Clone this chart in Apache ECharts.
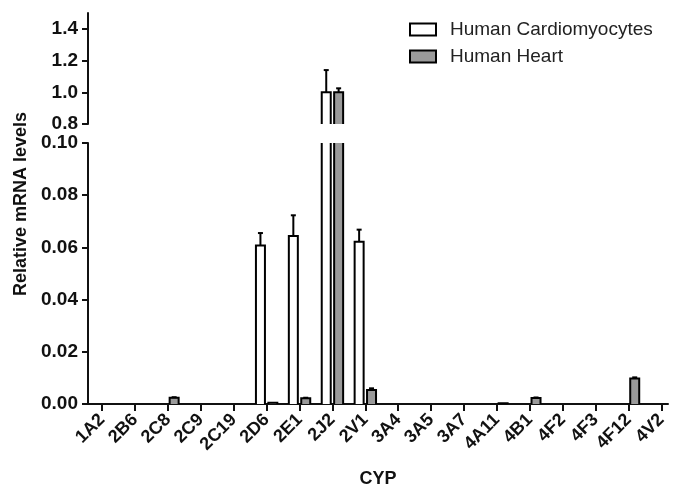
<!DOCTYPE html>
<html>
<head>
<meta charset="utf-8">
<script src="https://cdn.jsdelivr.net/npm/echarts@6/dist/echarts.min.js"></script>
<style>html,body{margin:0;padding:0;background:#fff;}#c{width:674px;height:486px;}</style>
</head>
<body>
<div id="c"></div>
<script>
var categories = ['1A2','2B6','2C8','2C9','2C19','2D6','2E1','2J2','2V1','3A4','3A5','3A7','4A11','4B1','4F2','4F3','4F12','4V2'];
var cardioMean = [0,0,0,0,0,0.0607,0.0644,1.0,0.0622,0,0,0,0,0,0,0,0,0];
var cardioErrTop = [null,null,null,null,null,0.0655,0.0723,1.14,0.0668,null,null,null,null,null,null,null,null,null];
var heartMean = [0,0,0.0024,0,0,0.0005,0.0022,1.0,0.0054,0,0,0,0.0003,0.0023,0,0,0.0098,0];
var heartErrTop = [null,null,0.0026,null,null,null,0.0024,1.025,0.006,null,null,null,null,0.0025,null,null,0.0102,null];
var upperTicks = [0.8,1.0,1.2,1.4];
var seriesNames = ['Human Cardiomyocytes','Human Heart'];

var chart = echarts.init(document.getElementById('c'));
var FONT = 'Liberation Sans, Arial, Helvetica, sans-serif';
var idx = categories.map(function(c,i){return i;});
var BW = 9, GAP = 3.4;
var FILL = ['#ffffff', '#9a9a9a'];

function barSeries(name, means, gridIdx, side, ymin, ymax, fill){
  return {
    type:'custom', name:name, xAxisIndex:gridIdx, yAxisIndex:gridIdx, z:3,
    itemStyle:{color:fill, borderColor:'#000', borderWidth:2},
    data: means.map(function(v,i){return [i, v];}),
    renderItem:function(params, api){
      var v = api.value(1);
      if (!(v > 0) || v <= ymin) return null;
      var base = Math.max(0, ymin), top = Math.min(v, ymax);
      var pb = api.coord([api.value(0), base]);
      var pt = api.coord([api.value(0), top]);
      var cx = pb[0] + side*(BW/2 + GAP/2);
      var x0 = cx - BW/2, x1 = cx + BW/2;
      var yb = pb[1], yt = pt[1];
      var children = [
        {type:'rect', shape:{x:x0, y:yt, width:BW, height:yb-yt}, style:{fill:fill, stroke:null}}
      ];
      if (v > ymax) {
        children.push({type:'line', shape:{x1:x0,y1:yb,x2:x0,y2:yt}, style:{stroke:'#000', lineWidth:2}});
        children.push({type:'line', shape:{x1:x1,y1:yb,x2:x1,y2:yt}, style:{stroke:'#000', lineWidth:2}});
      } else {
        children.push({type:'polyline', shape:{points:[[x0,yb],[x0,yt],[x1,yt],[x1,yb]]}, style:{stroke:'#000', lineWidth:2, fill:null}});
      }
      return {type:'group', children:children};
    }
  };
}
function errSeries(name, means, tops, gridIdx, side, ymin, ymax){
  return {
    type:'custom', name:name+' err', xAxisIndex:gridIdx, yAxisIndex:gridIdx, silent:true, z:5,
    data: means.map(function(v,i){return [i, v, tops[i]];}),
    renderItem:function(params, api){
      var top = api.value(2), m = api.value(1);
      if (top == null || isNaN(top) || !(m > 0)) return null;
      if (m >= ymax || top <= ymin) return null;
      var y0 = Math.max(m, ymin), y1 = Math.min(top, ymax);
      var p0 = api.coord([api.value(0), y0]);
      var p1 = api.coord([api.value(0), y1]);
      var x = p0[0] + side*(BW/2 + GAP/2);
      var children = [{type:'line', shape:{x1:x,y1:p0[1],x2:x,y2:p1[1]}, style:{stroke:'#000',lineWidth:2}}];
      if (top <= ymax) children.push({type:'line', shape:{x1:x-2.5,y1:p1[1],x2:x+2.5,y2:p1[1]}, style:{stroke:'#000',lineWidth:2}});
      return {type:'group', children:children};
    }
  };
}
var axisLabelY = {color:'#111', fontFamily:FONT, fontWeight:'bold', fontSize:19, margin:10};
var option = {
  animation:false,
  backgroundColor:'#fff',
  legend:{
    data:[
      {name:seriesNames[0], itemStyle:{color:FILL[0], borderColor:'#000', borderWidth:2}},
      {name:seriesNames[1], itemStyle:{color:FILL[1], borderColor:'#000', borderWidth:2}}
    ],
    orient:'vertical', left:409, top:20, padding:0, itemWidth:26, itemHeight:12, itemGap:8,
    icon:'rect', selectedMode:false,
    textStyle:{color:'#222', fontFamily:FONT, fontSize:19, lineHeight:19, padding:[0,0,0,9]}
  },
  grid:[
    {left:88, right:6, top:13, height:111, outerBoundsMode:'none', containLabel:false},
    {left:88, right:6, top:143, height:261, outerBoundsMode:'none', containLabel:false}
  ],
  xAxis:[
    {type:'value', gridIndex:0, min:-0.43, max:17.2, show:false, splitLine:{show:false}},
    {type:'value', gridIndex:1, min:-0.43, max:17.2, splitLine:{show:false},
     name:'CYP', nameLocation:'middle', nameGap:66, nameMoveOverlap:false,
     nameTextStyle:{color:'#111', fontFamily:FONT, fontWeight:'bold', fontSize:18},
     axisLine:{show:true, onZero:false, lineStyle:{color:'#111', width:2}},
     axisTick:{show:true, length:7, lineStyle:{color:'#111', width:2}, customValues:idx},
     axisLabel:{customValues:idx, rotate:45, margin:13, color:'#111', fontFamily:FONT, fontWeight:'bold', fontSize:18,
       formatter:function(v){ return categories[Math.round(v)]; }}
    }
  ],
  yAxis:[
    {type:'value', gridIndex:0, min:0.8, max:1.5, splitLine:{show:false},
     axisLine:{show:true, onZero:false, lineStyle:{color:'#111', width:2}},
     axisTick:{show:true, length:6, lineStyle:{color:'#111', width:2}, customValues:upperTicks},
     axisLabel:Object.assign({customValues:upperTicks, formatter:function(v){return v.toFixed(1);}}, axisLabelY)
    },
    {type:'value', gridIndex:1, min:0, max:0.1, interval:0.02, splitLine:{show:false},
     axisLine:{show:true, onZero:false, lineStyle:{color:'#111', width:2}},
     axisTick:{show:true, length:6, lineStyle:{color:'#111', width:2}},
     axisLabel:Object.assign({formatter:function(v){return v.toFixed(2);}}, axisLabelY)
    }
  ],
  graphic:[
    {type:'text', left:12, top:112, rotation:Math.PI/2, style:{text:'Relative mRNA levels', fill:'#111', font:'bold 18px '+FONT}}
  ],
  series: [
    barSeries(seriesNames[0], cardioMean, 0, -1, 0.8, 1.5, FILL[0]),
    barSeries(seriesNames[1], heartMean, 0, 1, 0.8, 1.5, FILL[1]),
    barSeries(seriesNames[0], cardioMean, 1, -1, 0, 0.1, FILL[0]),
    barSeries(seriesNames[1], heartMean, 1, 1, 0, 0.1, FILL[1]),
    errSeries(seriesNames[0], cardioMean, cardioErrTop, 0, -1, 0.8, 1.5),
    errSeries(seriesNames[1], heartMean, heartErrTop, 0, 1, 0.8, 1.5),
    errSeries(seriesNames[0], cardioMean, cardioErrTop, 1, -1, 0, 0.1),
    errSeries(seriesNames[1], heartMean, heartErrTop, 1, 1, 0, 0.1)
  ]
};
chart.setOption(option);
</script>
</body>
</html>
